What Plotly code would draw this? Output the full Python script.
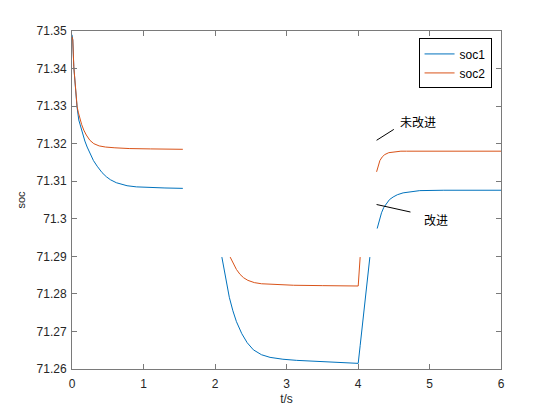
import plotly.graph_objects as go

# ---- data (None = gap in the drawn curve) ----
t1 = [0, 0.011, 0.025, 0.04, 0.055, 0.07, 0.095, 0.12, 0.15, 0.18, 0.212, 0.26, 0.3, 0.352,
      0.42, 0.48, 0.537, 0.62, 0.7, 0.77, 0.9, 1.096, 1.3, 1.55, None,
      2.096, 2.15, 2.2, 2.25, 2.3, 2.375, 2.45, 2.537, 2.65, 2.77, 2.95, 3.143, 3.4, 3.608,
      3.8, 4.003, 4.03, 4.073, 4.12, 4.166, None,
      4.268, 4.3, 4.329, 4.36, 4.399, 4.44, 4.491, 4.55, 4.631, 4.75, 4.864, 5.2, 6.0]
soc1 = [71.349, 71.3476, 71.3405, 71.3362, 71.3326, 71.3298, 71.3263, 71.3245, 71.3225,
        71.3207, 71.3191, 71.3170, 71.3155, 71.3140, 71.3123, 71.3112, 71.3104, 71.3096,
        71.3091, 71.3088, 71.3085, 71.3083, 71.3082, 71.3081, None,
        71.2898, 71.2837, 71.2791, 71.2755, 71.2726, 71.2694, 71.2670, 71.2651, 71.2638,
        71.2631, 71.2626, 71.2623, 71.2621, 71.2619, 71.2617, 71.2615,
        71.2662, 71.2742, 71.2822, 71.2898, None,
        71.2974, 71.2998, 71.3016, 71.3030, 71.3042, 71.3051, 71.3058, 71.3064, 71.3069,
        71.3073, 71.3075, 71.3076, 71.3076]

t2 = [0, 0.011, 0.025, 0.04, 0.055, 0.072, 0.09, 0.11, 0.135, 0.165, 0.2, 0.25, 0.305,
      0.38, 0.47, 0.6, 0.8, 1.1, 1.55, None,
      2.212, 2.25, 2.3, 2.35, 2.4, 2.46, 2.55, 2.65, 2.8, 3.1, 3.5, 4.003, 4.03, None,
      4.26, 4.28, 4.306, 4.34, 4.375, 4.43, 4.491, 4.6, 4.678, 6.0]
soc2 = [71.3485, 71.3476, 71.3405, 71.3363, 71.3328, 71.3298, 71.3282, 71.3267, 71.3251,
        71.3236, 71.3223, 71.3209, 71.3200, 71.3194, 71.3191, 71.3189, 71.3187, 71.3186,
        71.3185, None,
        71.2898, 71.2882, 71.2865, 71.2852, 71.2843, 71.2836, 71.2830, 71.2827, 71.2825,
        71.2823, 71.2822, 71.2821, 71.2898, None,
        71.3125, 71.3142, 71.3155, 71.3165, 71.3171, 71.3176, 71.3178, 71.3180, 71.3180,
        71.3180]

x_ticks = [0, 1, 2, 3, 4, 5, 6]
y_ticks = [71.26, 71.27, 71.28, 71.29, 71.30, 71.31, 71.32, 71.33, 71.34, 71.35]
y_ticktext = ["71.26", "71.27", "71.28", "71.29", "71.3", "71.31", "71.32", "71.33", "71.34", "71.35"]

# annotation pointer lines and labels (data coordinates)
note_lines = [((4.26, 71.3209), (4.501, 71.3238)), ((4.26, 71.3038), (4.734, 71.3018))]
note_texts = [("未改进", 4.56, 71.3258), ("改进", 4.90, 71.2998)]

BLUE = "#0072BD"
ORANGE = "#D95319"
AX = "#7a7a7a"
TXT = "#262626"
FONT = "Liberation Sans, Arial, sans-serif"

fig = go.Figure()
fig.add_trace(go.Scatter(x=t1, y=soc1, mode="lines", name="soc1",
                         line=dict(color=BLUE, width=1), connectgaps=False))
fig.add_trace(go.Scatter(x=t2, y=soc2, mode="lines", name="soc2",
                         line=dict(color=ORANGE, width=1), connectgaps=False))

for (x0, y0), (x1, y1) in note_lines:
    fig.add_shape(type="line", x0=x0, y0=y0, x1=x1, y1=y1, xref="x", yref="y",
                  line=dict(color="black", width=1))
for txt, x, y in note_texts:
    fig.add_annotation(text=txt, x=x, y=y, xref="x", yref="y", showarrow=False,
                       xanchor="left", yanchor="middle",
                       font=dict(family="Noto Sans CJK SC", size=12, color="black"))

axis_common = dict(showline=True, linecolor=AX, linewidth=1, mirror="ticks",
                   ticks="inside", ticklen=5, tickcolor=AX, showgrid=False, zeroline=False,
                   automargin=False, tickfont=dict(family=FONT, size=12, color=TXT))

fig.update_xaxes(range=[0, 6], tickvals=x_ticks, ticklabelstandoff=4,
                 title=dict(text="t/s", font=dict(family=FONT, size=12, color=TXT), standoff=4),
                 **axis_common)
fig.update_yaxes(range=[71.26, 71.35], tickvals=y_ticks, ticktext=y_ticktext,
                 ticklabelstandoff=2,
                 title=dict(text="soc", font=dict(family=FONT, size=11, color=TXT), standoff=8),
                 **axis_common)

# page body has an 8px margin, so the figure is 8px smaller than the window
fig.update_layout(
    width=546, height=407,
    margin=dict(l=63.5, r=53, t=23, b=46),
    paper_bgcolor="white", plot_bgcolor="white",
    showlegend=True,
    legend=dict(x=0.978, y=0.978, xanchor="right", yanchor="top",
                bordercolor="black", borderwidth=1, bgcolor="white",
                font=dict(family=FONT, size=12, color="black"),
                tracegroupgap=0),
)

fig.write_html("out.html")
